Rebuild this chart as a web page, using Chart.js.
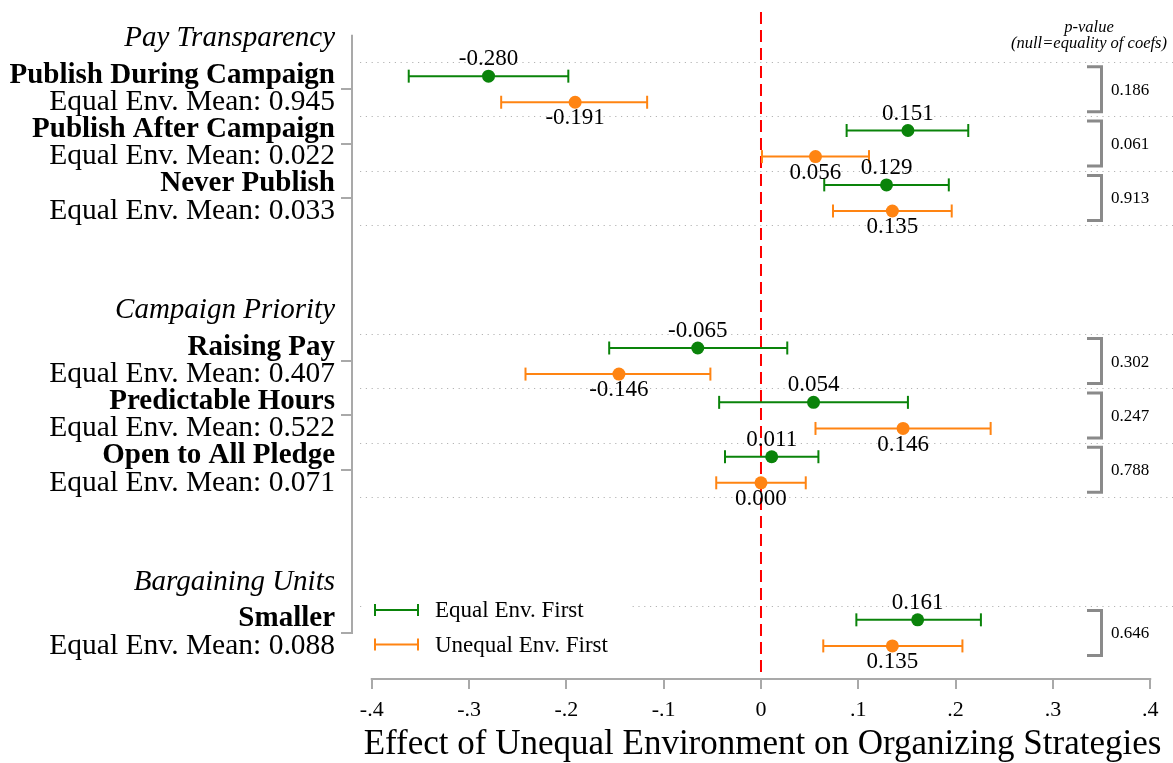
<!DOCTYPE html>
<html>
<head>
<meta charset="utf-8">
<script src="https://cdn.jsdelivr.net/npm/chart.js@4.4.1/dist/chart.umd.min.js"></script>
<style>
  html, body { margin: 0; padding: 0; background: #fff; }
  #wrap { width: 1173px; height: 763px; }
</style>
</head>
<body>
<div id="wrap"><canvas id="coefs" width="1173" height="763"></canvas></div>
<script>
// rows of the coefficient plot, top to bottom
const groups = ['Pay Transparency', 'Campaign Priority', 'Bargaining Units'];
const groupOf = [0, 0, 0, 1, 1, 1, 2];
const items = ['Publish During Campaign', 'Publish After Campaign', 'Never Publish',
  'Raising Pay', 'Predictable Hours', 'Open to All Pledge', 'Smaller'];
const means = ['0.945', '0.022', '0.033', '0.407', '0.522', '0.071', '0.088'];
const rowPos = [1, 2, 3, 6, 7, 8, 11];

// Equal Env. First (green)
const eqEst = [-0.280, 0.151, 0.129, -0.065, 0.054, 0.011, 0.161];
const eqLo  = [-0.362, 0.088, 0.065, -0.156, -0.043, -0.037, 0.098];
const eqHi  = [-0.198, 0.213, 0.193, 0.027, 0.151, 0.059, 0.226];

// Unequal Env. First (orange)
const uneqEst = [-0.191, 0.056, 0.135, -0.146, 0.146, 0.000, 0.135];
const uneqLo  = [-0.267, 0.001, 0.074, -0.242, 0.056, -0.046, 0.064];
const uneqHi  = [-0.117, 0.111, 0.196, -0.052, 0.236, 0.046, 0.207];

const pValues = ['0.186', '0.061', '0.913', '0.302', '0.247', '0.788', '0.646'];

const xTicks = [-0.4, -0.3, -0.2, -0.1, 0, 0.1, 0.2, 0.3, 0.4];
const xTickLabels = ['-.4', '-.3', '-.2', '-.1', '0', '.1', '.2', '.3', '.4'];

const SERIF = "'Liberation Serif', 'Times New Roman', serif";
const GREEN = '#0a830a';
const ORANGE = '#ff8412';
const AXIS = '#a9a9a9';
const OFF = 0.24; // vertical shift of each series inside a row

function ciSets(lo, hi, off, color) {
  return rowPos.map((p, i) => ({
    data: [{ x: lo[i], y: p + off }, { x: hi[i], y: p + off }],
    showLine: true,
    borderColor: color,
    borderWidth: 2,
    pointStyle: 'line',
    rotation: 90,
    pointRadius: 6.5,
    pointHoverRadius: 6.5,
    pointBorderWidth: 2,
    pointBorderColor: color,
    order: 2
  }));
}

function estSet(est, off, color) {
  return {
    data: rowPos.map((p, i) => ({ x: est[i], y: p + off })),
    pointRadius: 6.5,
    pointHoverRadius: 6.5,
    backgroundColor: color,
    borderWidth: 0,
    order: 1
  };
}

const fmt = v => (v < 0 ? '-' : '') + Math.abs(v).toFixed(3);

const framePlugin = {
  id: 'frame',
  beforeDatasetsDraw(chart) {
    const { ctx, chartArea: a, scales: { x, y } } = chart;
    ctx.save();
    // dotted row separators
    const seps = [];
    rowPos.forEach((p, i) => {
      seps.push(p - 0.5);
      if (i < rowPos.length - 1 && groupOf[i + 1] !== groupOf[i]) seps.push(p + 0.5);
    });
    ctx.strokeStyle = '#b4b4b4';
    ctx.lineWidth = 1;
    ctx.setLineDash([1.2, 4.6]);
    seps.forEach(v => {
      const py = Math.round(y.getPixelForValue(v)) + 0.5;
      ctx.beginPath();
      ctx.moveTo(a.left + 8, py);
      ctx.lineTo(a.right, py);
      ctx.stroke();
    });
    // zero line
    ctx.strokeStyle = '#ff0000';
    ctx.lineWidth = 2;
    ctx.setLineDash([12, 6]);
    const zx = x.getPixelForValue(0);
    ctx.beginPath();
    ctx.moveTo(zx, a.top);
    ctx.lineTo(zx, a.bottom);
    ctx.stroke();
    ctx.setLineDash([]);

    // legend box (covers the separators)
    ctx.fillStyle = '#fff';
    ctx.fillRect(a.left + 10, y.getPixelForValue(10.47), 270, 72);
    ctx.restore();
  },
  afterDatasetsDraw(chart) {
    const { ctx, chartArea: a, scales: { x, y } } = chart;
    ctx.save();
    ctx.fillStyle = '#000';
    ctx.textAlign = 'center';
    ctx.textBaseline = 'middle';
    ctx.font = '23px ' + SERIF;
    rowPos.forEach((p, i) => {
      ctx.fillText(fmt(eqEst[i]), x.getPixelForValue(eqEst[i]), y.getPixelForValue(p - OFF) - 17);
      ctx.fillText(fmt(uneqEst[i]), x.getPixelForValue(uneqEst[i]), y.getPixelForValue(p + OFF) + 16);
    });

    // brackets and p-values
    ctx.strokeStyle = '#8a8a8a';
    ctx.lineWidth = 3;
    ctx.textAlign = 'left';
    ctx.font = '17px ' + SERIF;
    rowPos.forEach((p, i) => {
      const cy = y.getPixelForValue(p);
      ctx.beginPath();
      ctx.moveTo(1087, cy - 22.5);
      ctx.lineTo(1101.5, cy - 22.5);
      ctx.lineTo(1101.5, cy + 22.5);
      ctx.lineTo(1087, cy + 22.5);
      ctx.stroke();
      ctx.fillText(pValues[i], 1111, cy + 1);
    });
    ctx.textAlign = 'center';
    ctx.textBaseline = 'alphabetic';
    ctx.font = 'italic 16.5px ' + SERIF;
    ctx.fillText('p-value', 1089, 32);
    ctx.fillText('(null=equality of coefs)', 1089, 48);

    // legend
    const entries = [['Equal Env. First', GREEN, 610], ['Unequal Env. First', ORANGE, 644.5]];
    ctx.lineWidth = 2;
    ctx.textAlign = 'left';
    ctx.textBaseline = 'middle';
    ctx.font = '23px ' + SERIF;
    entries.forEach(([label, color, ly]) => {
      ctx.strokeStyle = color;
      ctx.beginPath();
      ctx.moveTo(375, ly); ctx.lineTo(418, ly);
      ctx.moveTo(375, ly - 6); ctx.lineTo(375, ly + 6);
      ctx.moveTo(418, ly - 6); ctx.lineTo(418, ly + 6);
      ctx.stroke();
      ctx.fillStyle = '#000';
      ctx.fillText(label, 435, ly + 1);
    });
    ctx.restore();
  },
  afterDraw(chart) {
    const { ctx, chartArea: a, scales: { x, y } } = chart;
    ctx.save();
    // x axis line over the -.4 .. .4 range
    ctx.strokeStyle = AXIS;
    ctx.lineWidth = 2;
    ctx.beginPath();
    ctx.moveTo(x.getPixelForValue(-0.4) - 1, a.bottom + 1);
    ctx.lineTo(x.getPixelForValue(0.4) + 1, a.bottom + 1);
    ctx.stroke();

    // y axis line with a tick at each row
    const ax = a.left;
    ctx.beginPath();
    ctx.moveTo(ax, y.getPixelForValue(0));
    ctx.lineTo(ax, y.getPixelForValue(rowPos[rowPos.length - 1]) + 1);
    rowPos.forEach(p => {
      const py = Math.round(y.getPixelForValue(p));
      ctx.moveTo(ax - 11, py);
      ctx.lineTo(ax, py);
    });
    ctx.stroke();

    // row labels
    ctx.fillStyle = '#000';
    ctx.textAlign = 'right';
    ctx.textBaseline = 'middle';
    const lx = ax - 17;
    groups.forEach((g, k) => {
      const first = rowPos[groupOf.indexOf(k)];
      ctx.font = 'italic 29px ' + SERIF;
      ctx.fillText(g, lx, y.getPixelForValue(first) - 51);
    });
    rowPos.forEach((p, i) => {
      const cy = y.getPixelForValue(p);
      ctx.font = 'bold 29px ' + SERIF;
      ctx.fillText(items[i], lx, cy - 14);
      ctx.font = '29.5px ' + SERIF;
      ctx.fillText('Equal Env. Mean: ' + means[i], lx, cy + 13);
    });
    ctx.restore();
  }
};

new Chart(document.getElementById('coefs'), {
  type: 'scatter',
  data: {
    datasets: [
      ...ciSets(eqLo, eqHi, -OFF, GREEN),
      ...ciSets(uneqLo, uneqHi, OFF, ORANGE),
      estSet(eqEst, -OFF, GREEN),
      estSet(uneqEst, OFF, ORANGE)
    ]
  },
  options: {
    responsive: false,
    animation: false,
    layout: { autoPadding: false, padding: { top: 12, right: 0, left: 0, bottom: 0 } },
    plugins: {
      legend: { display: false },
      tooltip: { enabled: false }
    },
    scales: {
      x: {
        type: 'linear',
        min: -0.4203,
        max: 0.4234,
        afterBuildTicks: s => { s.ticks = xTicks.map(v => ({ value: v })); },
        afterFit: s => { s.height = 85; s.paddingLeft = 0; s.paddingRight = 0; },
        border: { display: false },
        grid: { drawOnChartArea: false, drawTicks: true, tickLength: 11, color: AXIS, lineWidth: 2 },
        ticks: {
          padding: 8,
          color: '#000',
          font: { family: SERIF, size: 22 },
          callback: v => xTickLabels[xTicks.findIndex(t => Math.abs(t - v) < 1e-9)]
        },
        title: {
          display: true,
          text: 'Effect of Unequal Environment on Organizing Strategies',
          color: '#000',
          font: { family: SERIF, size: 35, lineHeight: 1 },
          padding: { top: 0, bottom: 1 }
        }
      },
      y: {
        type: 'linear',
        reverse: true,
        min: -0.42,
        max: 11.83,
        afterFit: s => { s.width = 352; },
        border: { display: false },
        grid: { display: false },
        ticks: { display: false }
      }
    }
  },
  plugins: [framePlugin]
});
</script>
</body>
</html>
